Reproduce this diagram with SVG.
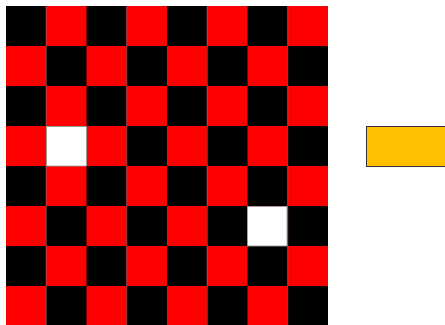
<svg xmlns="http://www.w3.org/2000/svg" width="445" height="325" viewBox="0 0 445 325">
<defs>
<style>
.k{fill:#000000}
.r{fill:#ff0000}
.w{fill:#ffffff;stroke:#a0a0a0;stroke-width:0.8}
.o{fill:#ffc000;stroke:#333333;stroke-width:1}
</style>
<pattern id="chk" x="6" y="6" width="80.5" height="80" patternUnits="userSpaceOnUse">
<rect x="0" y="0" width="40.25" height="40" class="k"/>
<rect x="40.25" y="0" width="40.25" height="40" class="r"/>
<rect x="0" y="40" width="40.25" height="40" class="r"/>
<rect x="40.25" y="40" width="40.25" height="40" class="k"/>
</pattern>
</defs>
<rect width="445" height="325" fill="#ffffff"/>
<g id="board">
<rect x="6" y="6" width="322" height="320" fill="url(#chk)"/>
</g>
<g id="white1"><rect x="46.5" y="126.5" width="40" height="39.5" class="w"/></g>
<g id="white2"><rect x="247.5" y="206.5" width="39.5" height="39.5" class="w"/></g>
<g id="block"><rect x="366.5" y="126.5" width="90" height="40" class="o"/></g>
<g id="connectors"/>
</svg>
